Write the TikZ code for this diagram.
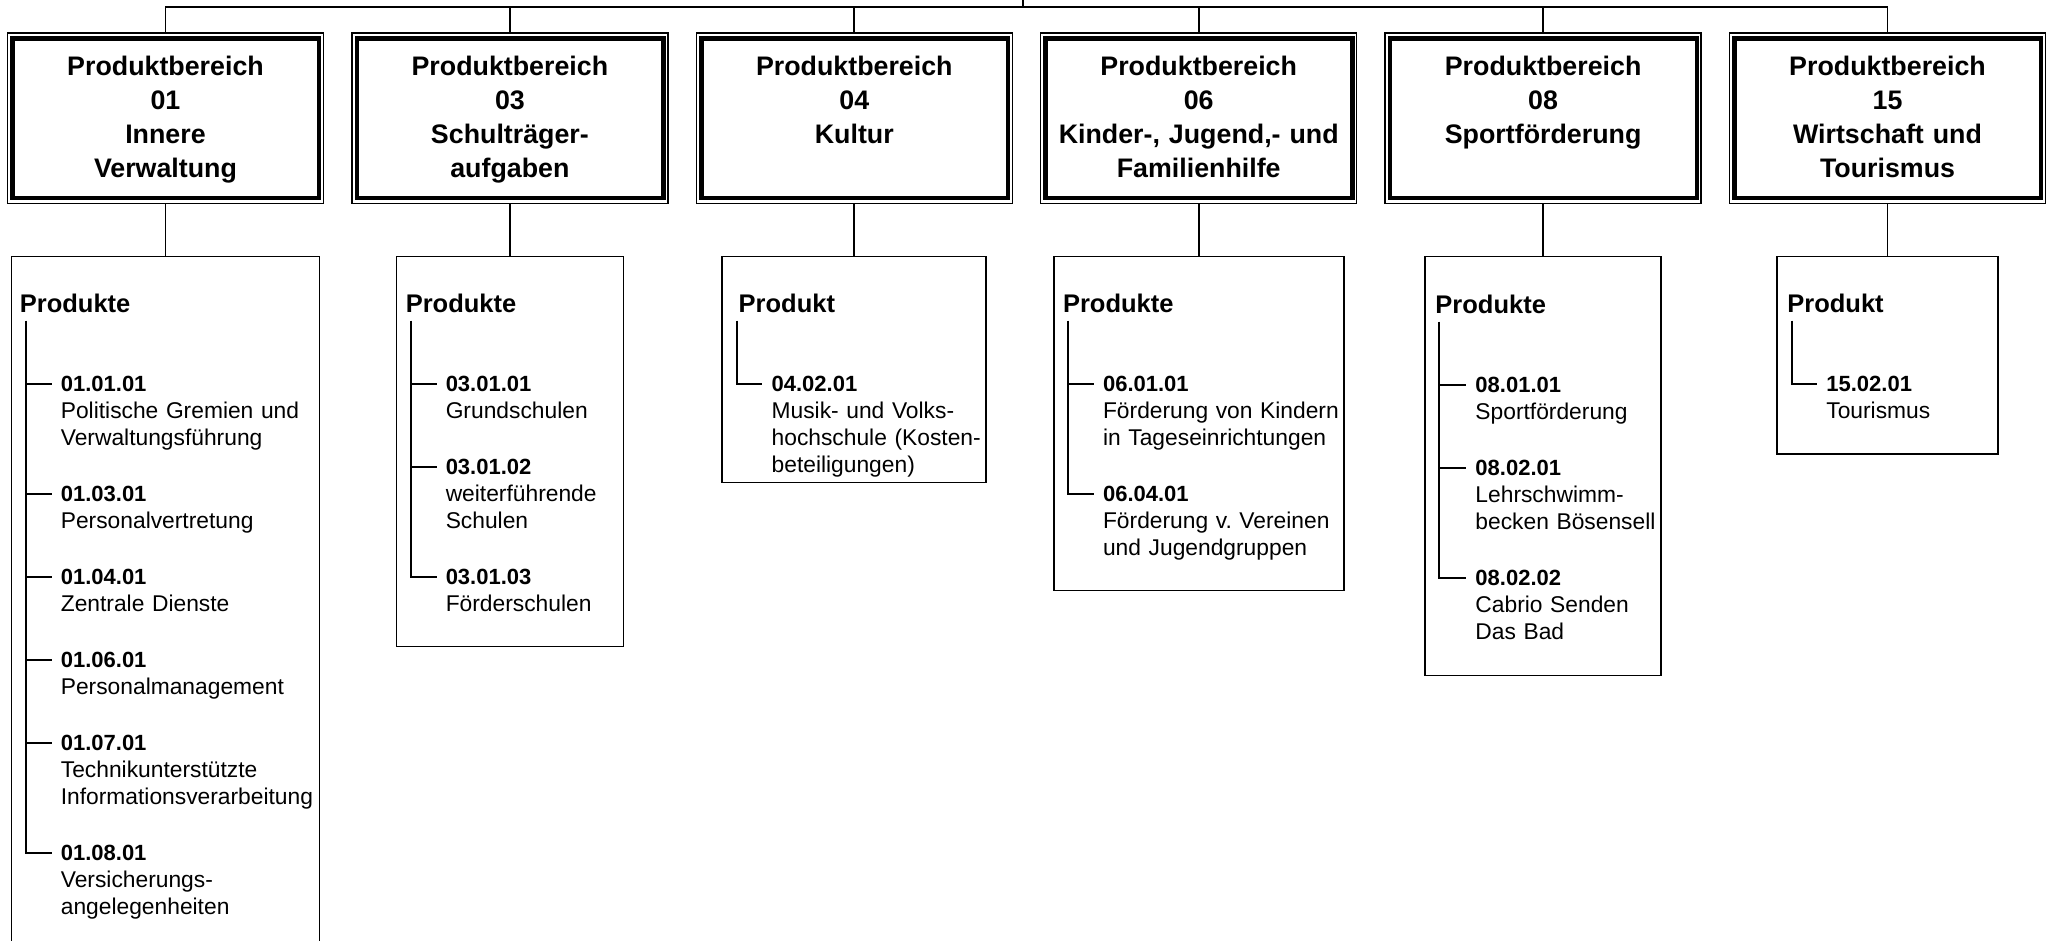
\documentclass[tikz,border=0pt]{standalone}
\usepackage{fontspec}
\setmainfont{Liberation Sans}
\usetikzlibrary{positioning}

\begin{document}
\frenchspacing
\begin{tikzpicture}[x=1pt,y=-1pt,node distance=27pt,
    linie/.style={line width=1.7pt},
    ast/.style={line width=2pt},
    bereich/.style={draw,line width=1.4pt,anchor=base,align=center,
      text width=300pt,inner xsep=8pt,inner ysep=0pt,
      text height=43pt,text depth=127.5pt,
      font=\bfseries\fontsize{26.8}{34}\selectfont},
    produktbox/.style={draw,line width=1.7pt,inner sep=0pt},
    kopf/.style={anchor=base west,inner sep=0pt,
      font=\bfseries\fontsize{25.5}{29}\selectfont},
    nummer/.style={anchor=base west,inner sep=0pt,
      font=\bfseries\fontsize{22}{27}\selectfont},
    eintrag/.style={anchor=base west,inner sep=0pt,text width=300pt,
      align=left,font=\fontsize{22.8}{27}\selectfont}]

  \useasboundingbox (0,0) rectangle (2049,941);
  \fill[white] (0,0) rectangle (2049,941);

  % Produktbereiche
  \node[bereich] (b01) at (165.5,76) {Produktbereich\\01\\Innere\\Verwaltung};
  \node[bereich,right=of b01] (b03) {Produktbereich\\03\\Schulträger-\\aufgaben};
  \node[bereich,right=of b03] (b04) {Produktbereich\\04\\Kultur};
  \node[bereich,right=of b04] (b06) {Produktbereich\\06\\Kinder-, Jugend,- und\\Familienhilfe};
  \node[bereich,right=of b06] (b08) {Produktbereich\\08\\Sportförderung};
  \node[bereich,right=of b08] (b15) {Produktbereich\\15\\Wirtschaft und\\Tourismus};

  \foreach \b in {b01,b03,b04,b06,b08,b15}
    \draw[line width=4.5pt] ([shift={(5.7,6)}]\b.north west) rectangle ([shift={(-5,-6)}]\b.south east);

  % Verbindung nach oben
  \coordinate (wurzel) at (1023,0);
  \coordinate (schiene) at (1023,7);
  \draw[linie] (wurzel) -- (schiene);
  \draw[linie] (b01.north) |- (schiene) -| (b15.north);
  \foreach \b in {b03,b04,b06,b08}
    \draw[linie] (\b.north) -- (\b.north |- schiene);

  % Produktkaesten
  \node[produktbox,minimum width=308pt,minimum height=720pt,below=51.5pt of b01] (p01) {};
  \node[produktbox,minimum width=227pt,minimum height=390pt,below=51.5pt of b03] (p03) {};
  \node[produktbox,minimum width=264pt,minimum height=226pt,below=51.5pt of b04] (p04) {};
  \node[produktbox,minimum width=290pt,minimum height=334pt,below=51.5pt of b06] (p06) {};
  \node[produktbox,minimum width=236pt,minimum height=419pt,below=51.5pt of b08] (p08) {};
  \node[produktbox,minimum width=221pt,minimum height=197.5pt,below=51.5pt of b15] (p15) {};

  \foreach \k in {01,03,04,06,08,15}
    \draw[linie] (b\k) -- (p\k);

  % 01 Innere Verwaltung
  \node[kopf] (k01) at ([shift={(9,56.7)}]p01.north west) {Produkte};
  \coordinate (s01) at ([shift={(15,65)}]p01.north west);
  \node[nummer] (n0101) at ([shift={(50,136)}]p01.north west) {01.01.01};
  \node[eintrag] (t0101) at ([shift={(0,27)}]n0101.base west) {Politische Gremien und\\Verwaltungsführung};
  \node[nummer] (n0103) at ([shift={(50,246)}]p01.north west) {01.03.01};
  \node[eintrag] (t0103) at ([shift={(0,27)}]n0103.base west) {Personalvertretung};
  \node[nummer] (n0104) at ([shift={(50,329)}]p01.north west) {01.04.01};
  \node[eintrag] (t0104) at ([shift={(0,27)}]n0104.base west) {Zentrale Dienste};
  \node[nummer] (n0106) at ([shift={(50,412)}]p01.north west) {01.06.01};
  \node[eintrag] (t0106) at ([shift={(0,27)}]n0106.base west) {Personalmanagement};
  \node[nummer] (n0107) at ([shift={(50,495)}]p01.north west) {01.07.01};
  \node[eintrag] (t0107) at ([shift={(0,27)}]n0107.base west) {Technikunterstützte\\Informationsverarbeitung};
  \node[nummer] (n0108) at ([shift={(50,605)}]p01.north west) {01.08.01};
  \node[eintrag] (t0108) at ([shift={(0,27)}]n0108.base west) {Versicherungs-\\angelegenheiten};
  \foreach \n in {n0101,n0103,n0104,n0106,n0107}
    \draw[ast] (s01 |- \n.west) -- ([shift={(-9,0)}]\n.west);
  \draw[ast] (s01) |- ([shift={(-9,0)}]n0108.west);

  % 03 Schultraegeraufgaben
  \node[kopf] (k03) at ([shift={(10,56.7)}]p03.north west) {Produkte};
  \coordinate (s03) at ([shift={(15,65)}]p03.north west);
  \node[nummer] (n0301) at ([shift={(50,136)}]p03.north west) {03.01.01};
  \node[eintrag] (t0301) at ([shift={(0,27)}]n0301.base west) {Grundschulen};
  \node[nummer] (n0302) at ([shift={(50,219)}]p03.north west) {03.01.02};
  \node[eintrag] (t0302) at ([shift={(0,27)}]n0302.base west) {weiterführende\\Schulen};
  \node[nummer] (n0303) at ([shift={(50,329)}]p03.north west) {03.01.03};
  \node[eintrag] (t0303) at ([shift={(0,27)}]n0303.base west) {Förderschulen};
  \foreach \n in {n0301,n0302}
    \draw[ast] (s03 |- \n.west) -- ([shift={(-9,0)}]\n.west);
  \draw[ast] (s03) |- ([shift={(-9,0)}]n0303.west);

  % 04 Kultur
  \node[kopf] (k04) at ([shift={(17,56.7)}]p04.north west) {Produkt};
  \coordinate (s04) at ([shift={(16,65)}]p04.north west);
  \node[nummer] (n0401) at ([shift={(50,136)}]p04.north west) {04.02.01};
  \node[eintrag] (t0401) at ([shift={(0,27)}]n0401.base west) {Musik- und Volks-\\hochschule (Kosten-\\beteiligungen)};
  \draw[ast] (s04) |- ([shift={(-9,0)}]n0401.west);

  % 06 Kinder-, Jugend- und Familienhilfe
  \node[kopf] (k06) at ([shift={(10,56.7)}]p06.north west) {Produkte};
  \coordinate (s06) at ([shift={(15,65)}]p06.north west);
  \node[nummer] (n0601) at ([shift={(50,136)}]p06.north west) {06.01.01};
  \node[eintrag] (t0601) at ([shift={(0,27)}]n0601.base west) {Förderung von Kindern\\in Tageseinrichtungen};
  \node[nummer] (n0604) at ([shift={(50,246)}]p06.north west) {06.04.01};
  \node[eintrag] (t0604) at ([shift={(0,27)}]n0604.base west) {Förderung v. Vereinen\\und Jugendgruppen};
  \draw[ast] (s06 |- n0601.west) -- ([shift={(-9,0)}]n0601.west);
  \draw[ast] (s06) |- ([shift={(-9,0)}]n0604.west);

  % 08 Sportfoerderung
  \node[kopf] (k08) at ([shift={(11,58)}]p08.north west) {Produkte};
  \coordinate (s08) at ([shift={(15,66)}]p08.north west);
  \node[nummer] (n0801) at ([shift={(51,137)}]p08.north west) {08.01.01};
  \node[eintrag] (t0801) at ([shift={(0,27)}]n0801.base west) {Sportförderung};
  \node[nummer] (n0802) at ([shift={(51,220)}]p08.north west) {08.02.01};
  \node[eintrag] (t0802) at ([shift={(0,27)}]n0802.base west) {Lehrschwimm-\\becken Bösensell};
  \node[nummer] (n0803) at ([shift={(51,330)}]p08.north west) {08.02.02};
  \node[eintrag] (t0803) at ([shift={(0,27)}]n0803.base west) {Cabrio Senden\\Das Bad};
  \foreach \n in {n0801,n0802}
    \draw[ast] (s08 |- \n.west) -- ([shift={(-9,0)}]\n.west);
  \draw[ast] (s08) |- ([shift={(-9,0)}]n0803.west);

  % 15 Wirtschaft und Tourismus
  \node[kopf] (k15) at ([shift={(11,56.7)}]p15.north west) {Produkt};
  \coordinate (s15) at ([shift={(16,65)}]p15.north west);
  \node[nummer] (n1501) at ([shift={(50,136)}]p15.north west) {15.02.01};
  \node[eintrag] (t1501) at ([shift={(0,27)}]n1501.base west) {Tourismus};
  \draw[ast] (s15) |- ([shift={(-9,0)}]n1501.west);
\end{tikzpicture}
\end{document}
